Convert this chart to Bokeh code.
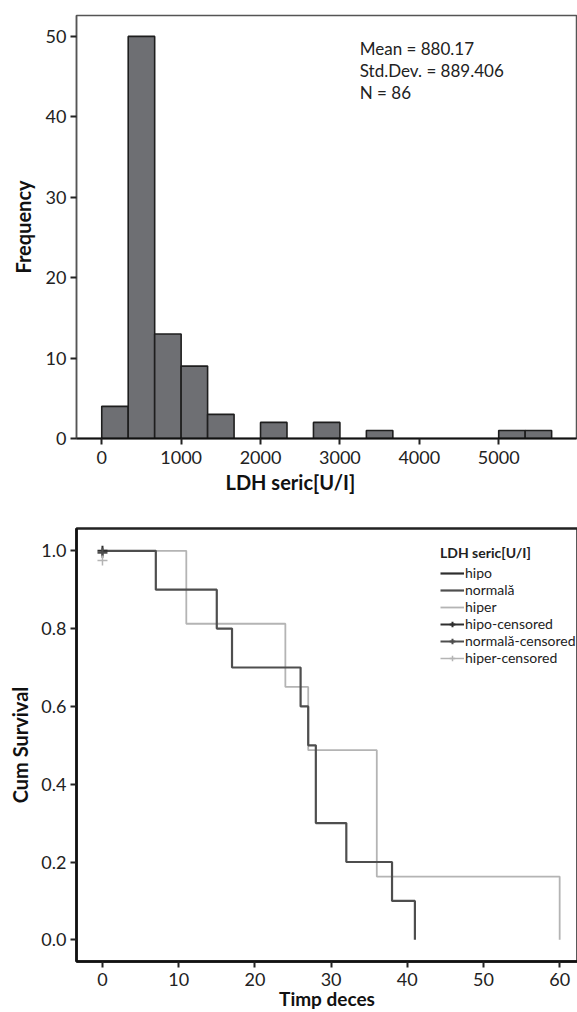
from bokeh.plotting import figure
from bokeh.models import Range1d, FixedTicker, NumeralTickFormatter, Label, Legend, LegendItem, Title
from bokeh.layouts import column
from bokeh.embed import file_html
from bokeh.resources import INLINE

FONT = "Lato"
NAN = float("nan")

# ---------------- data: histogram ----------------
bin_edges = [0, 333.3, 666.7, 1000, 1333.3, 1666.7, 2000, 2333.3, 2666.7, 3000,
             3333.3, 3666.7, 4000, 4333.3, 4666.7, 5000, 5333.3, 5666.7]
bin_counts = [4, 50, 13, 9, 3, 0, 2, 0, 2, 0, 1, 0, 0, 0, 0, 1, 1]
hist_x_ticks = [0, 1000, 2000, 3000, 4000, 5000]
hist_y_ticks = [0, 10, 20, 30, 40, 50]
stats_text = ["Mean = 880.17", "Std.Dev. = 889.406", "N = 86"]

# ---------------- data: survival ----------------
hipo_time = [0]
hipo_surv = [1.0]
normala_time = [0, 7, 15, 17, 26, 27, 28, 32, 38, 41]
normala_surv = [1.0, 0.9, 0.8, 0.7, 0.6, 0.5, 0.3, 0.2, 0.1, 0.0]
hiper_time = [0, 11, 24, 27, 36, 60]
hiper_surv = [1.0, 0.8125, 0.65, 0.4875, 0.1625, 0.0]
hipo_cens_time = [0]
hipo_cens_surv = [1.0]
normala_cens_time = [0]
normala_cens_surv = [0.995]
hiper_cens_time = [0]
hiper_cens_surv = [0.975]
surv_x_ticks = [0, 10, 20, 30, 40, 50, 60]
surv_y_ticks = [0.0, 0.2, 0.4, 0.6, 0.8, 1.0]


def style_axes(p):
    for ax in (p.xaxis[0], p.yaxis[0]):
        ax.major_label_text_font = FONT
        ax.major_label_text_font_size = "18px"
        ax.major_label_text_color = "#222222"
        ax.axis_label_text_font = FONT
        ax.axis_label_text_font_size = "20px"
        ax.axis_label_text_font_style = "bold"
        ax.axis_label_text_color = "#111111"
        ax.major_tick_in = 0
        ax.major_tick_out = 6
        ax.major_tick_line_width = 2
        ax.major_tick_line_color = "#222222"
        ax.minor_tick_line_color = None
        ax.major_label_standoff = 4
    p.xgrid.visible = False
    p.ygrid.visible = False


# ---------------- histogram figure ----------------
p1 = figure(frame_width=500, frame_height=423,
            x_range=Range1d(-318, 5980), y_range=Range1d(0, 52.6),
            output_backend="svg", toolbar_location=None,
            min_border_left=76, min_border_right=1, min_border_top=15,
            min_border_bottom=40)
p1.outline_line_color = "#555555"
p1.outline_line_width = 1.5

lefts = [bin_edges[i] for i in range(len(bin_counts)) if bin_counts[i] > 0]
rights = [bin_edges[i + 1] for i in range(len(bin_counts)) if bin_counts[i] > 0]
tops = [c for c in bin_counts if c > 0]
p1.quad(left=lefts, right=rights, bottom=0, top=tops,
        fill_color="#6e6f73", line_color="#1e1e1e", line_width=1.6)

style_axes(p1)
p1.xaxis.ticker = FixedTicker(ticks=hist_x_ticks)
p1.yaxis.ticker = FixedTicker(ticks=hist_y_ticks)
p1.xaxis.axis_line_color = "#111111"
p1.xaxis.axis_line_width = 2
p1.yaxis.axis_line_color = "#555555"
p1.yaxis.axis_line_width = 1.5
p1.yaxis.axis_label = "Frequency"
p1.yaxis.axis_label_standoff = 8
p1.xaxis.major_label_standoff = 6

p1.add_layout(Title(text="LDH seric[U/I]", align="left", offset=149,
                    text_font=FONT, text_font_size="20px", text_font_style="bold",
                    text_color="#111111", standoff=2), "below")

for i, t in enumerate(stats_text):
    p1.add_layout(Label(x=3250, y=48.5 - 2.75 * i, text=t, text_baseline="middle",
                        text_font=FONT, text_font_size="17px", text_color="#222222"))

# ---------------- survival figure ----------------
p2 = figure(frame_width=501, frame_height=433,
            x_range=Range1d(-3.41, 62.34), y_range=Range1d(-0.0557, 1.0573),
            output_backend="svg", toolbar_location=None,
            min_border_left=69, min_border_right=7, min_border_top=34,
            min_border_bottom=40)
p2.outline_line_color = "#222222"
p2.outline_line_width = 2.5

style_axes(p2)
p2.xaxis.ticker = FixedTicker(ticks=surv_x_ticks)
p2.yaxis.ticker = FixedTicker(ticks=surv_y_ticks)
p2.yaxis.formatter = NumeralTickFormatter(format="0.0")
for ax in (p2.xaxis[0], p2.yaxis[0]):
    ax.axis_line_color = "#111111"
    ax.axis_line_width = 2.5
p2.xaxis.axis_label = "Timp deces"
p2.yaxis.axis_label = "Cum Survival"
p2.xaxis.axis_label_standoff = -2
p2.xaxis.axis_label_text_font_size = "19px"
p2.yaxis.axis_label_standoff = 6
p2.xaxis.major_label_standoff = 5

C_HIPO = "#2e2e2e"
C_NORM = "#4e4e4e"
C_HIPER = "#b4b4b4"

r_hiper = p2.step(hiper_time, hiper_surv, mode="after", line_color=C_HIPER, line_width=1.8)
r_norm = p2.step(normala_time, normala_surv, mode="after", line_color=C_NORM, line_width=2.2)
r_hipo = p2.step(hipo_time, hipo_surv, mode="after", line_color=C_HIPO, line_width=2.2)

c_hipo = p2.scatter(hipo_cens_time, hipo_cens_surv, marker="cross", size=10,
                    line_color=C_HIPO, line_width=2)
c_norm = p2.scatter(normala_cens_time, normala_cens_surv, marker="cross", size=10,
                    line_color=C_NORM, line_width=2)
c_hiper = p2.scatter(hiper_cens_time, hiper_cens_surv, marker="cross", size=10,
                     line_color=C_HIPER, line_width=1.5)

# legend-only line renderers for the censored entries (no visible data)
l_hipo = p2.line([NAN], [NAN], line_color=C_HIPO, line_width=2)
l_norm = p2.line([NAN], [NAN], line_color=C_NORM, line_width=2)
l_hiper = p2.line([NAN], [NAN], line_color=C_HIPER, line_width=1.5)

legend = Legend(items=[
    LegendItem(label="hipo", renderers=[r_hipo]),
    LegendItem(label="normală", renderers=[r_norm]),
    LegendItem(label="hiper", renderers=[r_hiper]),
    LegendItem(label="hipo-censored", renderers=[l_hipo, c_hipo]),
    LegendItem(label="normală-censored", renderers=[l_norm, c_norm]),
    LegendItem(label="hiper-censored", renderers=[l_hiper, c_hiper]),
], location=(364, 295), title="LDH seric[U/I]")
legend.title_text_font = FONT
legend.title_text_font_size = "14px"
legend.title_text_font_style = "bold"
legend.title_text_color = "#222222"
legend.title_standoff = 3
legend.label_text_font = FONT
legend.label_text_font_size = "14px"
legend.label_text_color = "#222222"
legend.glyph_width = 24
legend.glyph_height = 14
legend.label_height = 14
legend.label_standoff = 1
legend.spacing = 0
legend.padding = 0
legend.margin = 0
legend.border_line_alpha = 0
legend.background_fill_alpha = 0
p2.add_layout(legend)

layout = column(p1, p2)
html = file_html(layout, INLINE)
html = html.replace("<head>", "<head><style>html,body{margin:0;padding:0;overflow:hidden;}</style>", 1)
open("out.html", "w").write(html)
